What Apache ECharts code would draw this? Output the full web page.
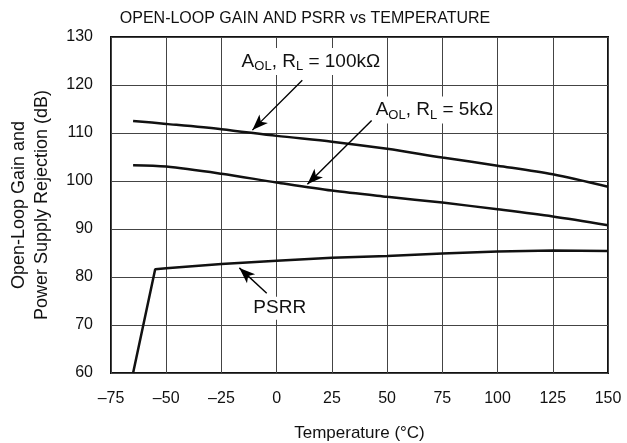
<!DOCTYPE html>
<html>
<head>
<meta charset="utf-8">
<script src="https://cdn.jsdelivr.net/npm/echarts@6/dist/echarts.min.js"></script>
<style>
  html, body { margin: 0; padding: 0; background: #fff; }
  #chart { width: 627px; height: 443px; }
</style>
</head>
<body>
<div id="chart"></div>
<script>
const FONT = '"Liberation Sans", Arial, sans-serif';

// temperatures (°C) where the curves were read
const tempsAol = [-65, -50, -25, 0, 25, 50, 75, 100, 125, 150];
const aol100k = [112.5, 111.9, 110.8, 109.4, 108.2, 106.7, 104.9, 103.2, 101.4, 98.8];
const aol5k = [103.3, 103.0, 101.5, 99.7, 98.0, 96.7, 95.5, 94.1, 92.6, 90.8];

const tempsPsrr = [-65, -55, -50, -25, 0, 25, 50, 75, 100, 125, 150];
const psrr = [60, 81.6, 81.8, 82.7, 83.4, 84.0, 84.4, 84.9, 85.3, 85.5, 85.4];

const xTicks = [-75, -50, -25, 0, 25, 50, 75, 100, 125, 150];

// annotation labels: [temp, dB, text]
const notes = [
  [15.5, 124.9, 'A{sub|OL}, R{sub|L} = 100kΩ'],
  [71.4, 114.8, 'A{sub|OL}, R{sub|L} = 5kΩ'],
  [1.4, 73.5, 'PSRR']
];
// arrows: [from, to]
const arrows = [
  [[11.6, 121.0], [-11.0, 110.6]],
  [[43.0, 112.6], [13.9, 99.3]],
  [[-4.5, 76.6], [-16.9, 81.9]]
];

const pair = (xs, ys) => xs.map((x, i) => [x, ys[i]]);

const chart = echarts.init(document.getElementById('chart'));

const lineStyle = { color: '#111', width: 2.5 };

chart.setOption({
  animation: false,
  textStyle: { fontFamily: FONT },
  title: {
    text: 'OPEN-LOOP GAIN AND PSRR vs TEMPERATURE',
    left: 300,
    textAlign: 'center',
    top: 6,
    textStyle: { fontFamily: FONT, fontSize: 16, fontWeight: 'normal', color: '#111' }
  },
  grid: {
    left: 111, right: 19, top: 37, bottom: 70,
    outerBoundsMode: 'none',
    show: true, borderColor: '#111', borderWidth: 2
  },
  xAxis: {
    type: 'value',
    min: -75, max: 150, interval: 25,
    name: 'Temperature (°C)',
    nameLocation: 'middle',
    nameGap: 52,
    nameTextStyle: { fontFamily: FONT, fontSize: 17, color: '#111' },
    axisLine: { show: false },
    axisTick: { show: false },
    axisLabel: {
      margin: 18, fontSize: 16, color: '#111', fontFamily: FONT,
      formatter: v => xTicks.includes(v) ? String(v).replace('-', '\u2013') : ''
    },
    splitLine: { lineStyle: { color: '#444', width: 1 } }
  },
  yAxis: {
    type: 'value',
    min: 60, max: 130, interval: 10,
    name: 'Open-Loop Gain and\nPower Supply Rejection (dB)',
    nameLocation: 'middle',
    nameGap: 57,
    nameTextStyle: { fontFamily: FONT, fontSize: 18, color: '#111', lineHeight: 23 },
    axisLine: { show: false },
    axisTick: { show: false },
    axisLabel: { margin: 18, fontSize: 16, color: '#111', fontFamily: FONT },
    splitLine: { lineStyle: { color: '#444', width: 1 } }
  },
  series: [
    {
      name: 'AOL 100k', type: 'line', smooth: 0.3, symbol: 'none',
      data: pair(tempsAol, aol100k), lineStyle: lineStyle, z: 3
    },
    {
      name: 'AOL 5k', type: 'line', smooth: 0.3, symbol: 'none',
      data: pair(tempsAol, aol5k), lineStyle: lineStyle, z: 3
    },
    {
      name: 'PSRR', type: 'line', symbol: 'none',
      data: pair(tempsPsrr, psrr), lineStyle: lineStyle, z: 3,
      markLine: {
        silent: true,
        symbol: ['none', 'arrow'],
        symbolSize: [9, 16],
        label: { show: false },
        lineStyle: { color: '#000', width: 1.4, type: 'solid', opacity: 1 },
        itemStyle: { color: '#000', opacity: 1 },
        data: arrows.map(a => [{ coord: a[0] }, { coord: a[1] }])
      }
    },
    {
      name: 'notes', type: 'scatter', symbolSize: 0, z: 5,
      itemStyle: { opacity: 1 },
      data: notes.map(n => ({ value: [n[0], n[1]], text: n[2] })),
      label: {
        show: true,
        position: 'inside',
        formatter: p => p.data.text,
        color: '#111',
        fontSize: 19,
        fontFamily: FONT,
        backgroundColor: '#fff',
        padding: [2, 3],
        rich: {
          sub: { fontSize: 13, fontFamily: FONT, color: '#111', padding: [10, 0, 0, 0] }
        }
      }
    }
  ]
});
</script>
</body>
</html>
